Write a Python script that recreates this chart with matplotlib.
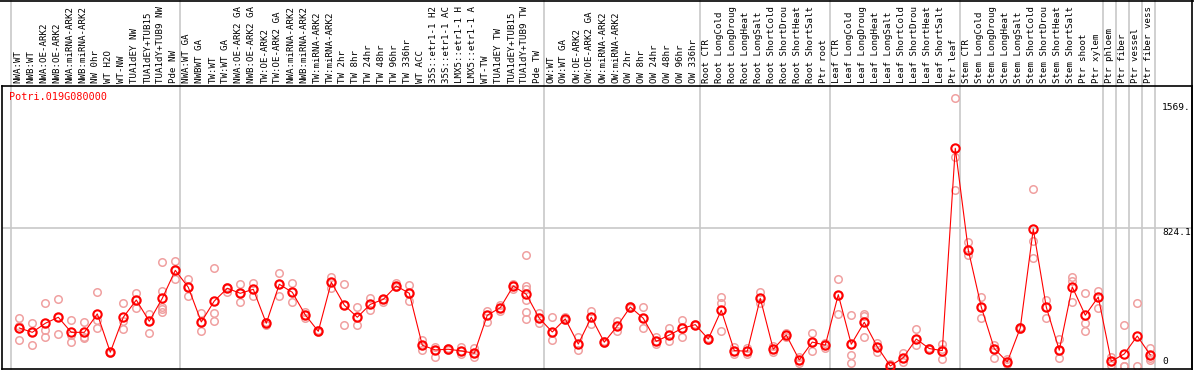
import matplotlib
matplotlib.use("Agg")
import matplotlib.pyplot as plt
import matplotlib.transforms as mtransforms
from matplotlib.lines import Line2D

gene = "Potri.019G080000"

# labels are cut at the top of the header in the original, so keep what shows
labels = [
    "NWA:WT", "NWB:WT", "NWA:OE-ARK2", "NWB:OE-ARK2", "NWA:miRNA-ARK2", "NWB:miRNA-ARK2",
    "NW 0hr", "WT H2O", "WT-NW", "TUA1dEY NW", "TUA1dEY+TUB15", "TUA1dY+TUB9 NW", "Pde NW",
    "NWA:WT GA", "NWBWT GA", "TW:WT", "TW:WT GA", "NWA:OE-ARK2 GA", "NWB:OE-ARK2 GA",
    "TW:OE-ARK2", "TW:OE-ARK2 GA", "NWA:miRNA-ARK2", "NWB:miRNA-ARK2", "TW:miRNA-ARK2",
    "TW:miRNA-ARK2", "TW 2hr", "TW 8hr", "TW 24hr", "TW 48hr", "TW 96hr", "TW 336hr",
    "WT ACC", "35S::etr1-1 H2", "35S::etr1-1 AC", "LMX5::etr1-1 H", "LMX5::etr1-1 A",
    "WT-TW", "TUA1dEY TW", "TUA1dEY+TUB15", "TUA1dY+TUB9 TW", "Pde TW",
    "OW:WT", "OW:WT GA", "OW:OE-ARK2", "OW:OE-ARK2 GA", "OW:miRNA-ARK2", "OW:miRNA-ARK2",
    "OW 2hr", "OW 8hr", "OW 24hr", "OW 48hr", "OW 96hr", "OW 336hr",
    "Root CTR", "Root LongCold", "Root LongDroug", "Root LongHeat", "Root LongSalt",
    "Root ShortCold", "Root ShortDrou", "Root ShortHeat", "Root ShortSalt", "Ptr root",
    "Leaf CTR", "Leaf LongCold", "Leaf LongDroug", "Leaf LongHeat", "Leaf LongSalt",
    "Leaf ShortCold", "Leaf ShortDrou", "Leaf ShortHeat", "Leaf ShortSalt", "Ptr leaf",
    "Stem CTR", "Stem LongCold", "Stem LongDroug", "Stem LongHeat", "Stem LongSalt",
    "Stem ShortCold", "Stem ShortDrou", "Stem ShortHeat", "Stem ShortSalt", "Ptr shoot",
    "Ptr xylem", "Ptr phloem", "Ptr fiber", "Ptr vessel", "Ptr fiber vess",
]

means = [
    227, 201, 255, 291, 201, 201, 311, 82, 291, 394, 267, 404, 571,
    470, 263, 388, 464, 434, 458, 255, 488, 440, 305, 207, 500, 364, 291, 368, 398,
    478, 434, 124, 96, 100, 90, 76, 303, 348, 478, 428, 285,
    203, 281, 131, 291, 142, 239, 352, 285, 147, 185, 225, 247,
    161, 333, 92, 88, 404, 100, 185, 36, 143, 124,
    426, 130, 261, 115, 0, 50, 161, 104, 92, 1300,
    693, 352, 104, 24, 227, 818, 352, 94, 472, 303, 412,
    28, 72, 179, 66,
]

replicates = [
    [287, 239, 155], [255, 201, 124], [374, 215, 173], [400, 291, 189], [273, 185, 142],
    [261, 175, 165], [440, 275, 225], [85, 82, 78], [374, 271, 219], [436, 394, 348],
    [311, 267, 195], [619, 448, 354, 340, 324], [625, 571, 518],
    [518, 470, 420], [315, 263, 209], [583, 315, 271], [474, 464, 444], [488, 434, 380],
    [494, 458, 420], [255, 245, 262], [554, 488, 420], [494, 440, 384], [325, 305, 285],
    [215, 207, 200], [533, 500, 464], [488, 364, 243], [350, 291, 243], [406, 368, 334],
    [400, 398, 384], [494, 478, 470], [482, 434, 386], [155, 124, 97], [113, 96, 56],
    [110, 100, 95], [113, 90, 70], [109, 76, 56], [328, 303, 265], [328, 348, 365],
    [490, 478, 458], [663, 478, 458, 394, 322, 279], [315, 285, 259],
    [295, 203, 155], [290, 281, 275], [171, 131, 96], [328, 291, 251], [150, 142, 135],
    [269, 239, 209], [360, 352, 345], [350, 285, 225], [175, 147, 131], [225, 185, 147],
    [275, 225, 175], [247, 250, 245],
    [170, 161, 155], [414, 374, 209], [115, 92, 72], [110, 88, 70], [440, 404, 374],
    [119, 100, 82], [199, 185, 175], [56, 36, 16], [195, 143, 88], [140, 124, 110],
    [520, 426, 309], [303, 130, 64, 20], [312, 300, 261, 173], [139, 115, 85], [10, 0, 0],
    [80, 50, 22], [221, 161, 125], [110, 104, 100], [131, 104, 40], [1599, 1250, 1051],
    [739, 693, 663], [410, 352, 285], [125, 104, 50], [40, 24, 10], [235, 227, 220],
    [1057, 748, 643], [394, 352, 285], [163, 94, 46], [533, 510, 380], [434, 255, 211],
    [450, 412, 348],
    [52, 28, 6], [243, 0, 0], [376, 0], [109, 66, 36, 50],
]

group_starts = [0, 13, 41, 53, 63, 73, 84, 85, 86, 87, 88]
y_marks = [1569, 824.1, 0]
y_mark_text = ["1569.", "824.1", "0"]

W, H = 1194, 370
fig = plt.figure(figsize=(W / 100, H / 100), dpi=100)
ax = fig.add_axes([1.5 / W, 1.5 / H, 1190.5 / W, 282.5 / H])
ax.set_xlim(-1.369, 90.21)
ax.set_ylim(-15, 1672)
ax.set_xticks([])
ax.set_yticks([])
for s in ax.spines.values():
    s.set_color("black")
    s.set_linewidth(1.2)

grid = "#c8c8c8"
trans = mtransforms.blended_transform_factory(ax.transData, ax.transAxes)
head_top = 1 + 88 / 282.5
for g in group_starts:
    ax.plot([g - 0.64, g - 0.64], [0, head_top], color=grid, lw=1.2,
            transform=trans, clip_on=False, zorder=0)
ax.axhline(824.1, color=grid, lw=1.2, zorder=0)

xs = list(range(len(means)))
for i, reps in enumerate(replicates):
    ax.plot([i] * len(reps), reps, linestyle="none", marker="o", ms=5.4,
            mfc="none", mec="#f0a0a0", mew=1.1, zorder=2)
ax.plot(xs, means, color="red", lw=0.8, marker="o", ms=6.0,
        mfc="none", mec="red", mew=1.5, zorder=3)

mono = "DejaVu Sans Mono"
for i, lab in enumerate(labels):
    ax.text(i - 0.1, 1 + 3 / 282.5, lab, rotation=90, ha="center", va="bottom",
            fontsize=6.6, family=mono, transform=trans, clip_on=False)

ax.text(0.0066, 0.961, gene, color="red", fontsize=7.3, family=mono,
        ha="left", va="center", transform=ax.transAxes)

ytrans = mtransforms.blended_transform_factory(ax.transAxes, ax.transData)
for v, t in zip(y_marks, y_mark_text):
    ax.text(0.975, v, t, fontsize=6.8, family=mono, ha="left",
            va="bottom" if v == 0 else "top", transform=ytrans)

fig.add_artist(Line2D([0, 1], [1 - 0.6 / H, 1 - 0.6 / H], color="black", lw=1.2))
fig.add_artist(Line2D([1192 / W, 1192 / W], [0, 1], color="black", lw=1.2))

fig.savefig("out.png", dpi=100)
